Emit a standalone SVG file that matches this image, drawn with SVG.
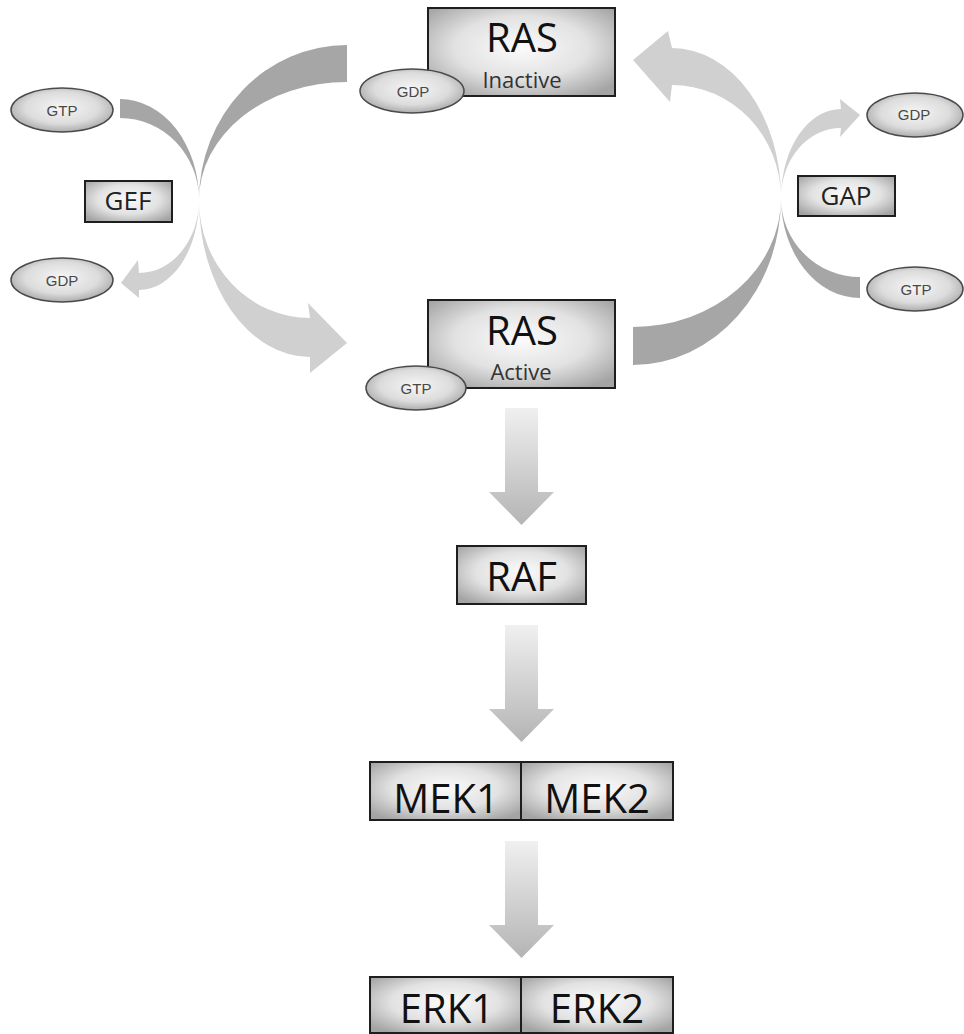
<svg xmlns="http://www.w3.org/2000/svg" width="964" height="1034" viewBox="0 0 964 1034">
<defs>
<radialGradient id="boxGrad" cx="50%" cy="45%" r="65%">
<stop offset="0" stop-color="#fbfbfb"/>
<stop offset="0.55" stop-color="#e2e2e2"/>
<stop offset="1" stop-color="#a4a4a4"/>
</radialGradient>
<radialGradient id="ellGrad" cx="50%" cy="45%" r="60%">
<stop offset="0" stop-color="#f6f6f6"/>
<stop offset="0.6" stop-color="#dcdcdc"/>
<stop offset="1" stop-color="#a0a0a0"/>
</radialGradient>
<linearGradient id="downGrad" x1="0" y1="0" x2="0" y2="1">
<stop offset="0" stop-color="#f0f0f0"/>
<stop offset="1" stop-color="#b4b4b4"/>
</linearGradient>
<path id="downArrow" d="M-16.5,0 H16.5 V84 H32.5 L0,117 L-32.5,84 H-16.5 Z"/>
</defs>
<style>
.box{fill:url(#boxGrad);stroke:#1e1e1e;stroke-width:2}
.ell{fill:url(#ellGrad);stroke:#4a4a4a;stroke-width:1.5}
.big{font-family:"Open Sans","DejaVu Sans",sans-serif;font-size:40px;fill:#111;text-anchor:middle}
.mid{font-family:"Open Sans","DejaVu Sans",sans-serif;font-size:26px;fill:#222;text-anchor:middle}
.sub{font-family:"Open Sans","DejaVu Sans",sans-serif;font-size:22px;fill:#333;text-anchor:middle}
.sm{font-family:"Liberation Sans",Arial,sans-serif;font-size:15px;fill:#484848;text-anchor:middle}
.dark{fill:#a6a6a6}
.light{fill:#d0d0d0}
.down{fill:url(#downGrad)}
</style>
<rect width="964" height="1034" fill="#ffffff"/>
<g id="connectors">
<path class="dark" d="M347,45 A148,155 0 0 0 199,200 A148,118 0 0 1 347,82 Z"/>
<path class="dark" d="M120,99 A79,101 0 0 1 199,200 A79,82 0 0 0 120,118 Z"/>
<path class="light" d="M199,200 A111,118 0 0 0 310,318 L308,303 L347,343 L310,373 L310,357 A111,157 0 0 1 199,200 Z"/>
<path class="light" d="M199,200 A60,73 0 0 1 139,273 L138,260 L121,283 L139,298 L139,290 A60,90 0 0 0 199,200 Z"/>
<path class="dark" d="M633,365 A148,167 0 0 0 781,198 A148,129 0 0 1 633,327 Z"/>
<path class="dark" d="M860,298 A79,100 0 0 1 781,198 A79,79 0 0 0 860,277 Z"/>
<path class="light" d="M781,198 A109,113 0 0 0 672,85 L670,102 L633,60 L668,31 L672,48 A109,150 0 0 1 781,198 Z"/>
<path class="light" d="M781,198 A60,89 0 0 1 841,109 L840,99 L860,115 L840,137 L841,128 A60,70 0 0 0 781,198 Z"/>
<use href="#downArrow" class="down" x="521.5" y="408"/>
<use href="#downArrow" class="down" x="521.5" y="625"/>
<use href="#downArrow" class="down" x="521.5" y="841"/>
</g>
<g id="ras-inactive">
<rect class="box" x="428" y="8" width="187" height="88"/>
<text class="big" x="522" y="52">RAS</text>
<text class="sub" x="522" y="88">Inactive</text>
<ellipse class="ell" cx="412" cy="91" rx="52" ry="22"/>
<text class="sm" x="413" y="97">GDP</text>
</g>
<g id="ras-active">
<rect class="box" x="428" y="300" width="187" height="88"/>
<text class="big" x="522" y="345">RAS</text>
<text class="sub" x="521" y="380">Active</text>
<ellipse class="ell" cx="416" cy="388" rx="50" ry="22"/>
<text class="sm" x="416" y="394">GTP</text>
</g>
<g id="gtp-left">
<ellipse class="ell" cx="62" cy="110" rx="51" ry="22"/>
<text class="sm" x="62" y="116">GTP</text>
</g>
<g id="gdp-left">
<ellipse class="ell" cx="62" cy="280" rx="51" ry="22"/>
<text class="sm" x="62" y="286">GDP</text>
</g>
<g id="gef">
<rect class="box" x="85" y="181" width="87" height="41"/>
<text class="mid" x="128" y="210">GEF</text>
</g>
<g id="gdp-right">
<ellipse class="ell" cx="915" cy="115" rx="48" ry="22"/>
<text class="sm" x="914" y="120">GDP</text>
</g>
<g id="gtp-right">
<ellipse class="ell" cx="915" cy="289" rx="48" ry="22"/>
<text class="sm" x="916" y="295">GTP</text>
</g>
<g id="gap">
<rect class="box" x="798" y="176" width="97" height="40"/>
<text class="mid" x="846" y="205">GAP</text>
</g>
<g id="raf">
<rect class="box" x="457" y="546" width="129" height="58"/>
<text class="big" x="521.5" y="591">RAF</text>
</g>
<g id="mek">
<rect class="box" x="370" y="762" width="151" height="58"/>
<rect class="box" x="521" y="762" width="152" height="58"/>
<text class="big" x="446" y="813">MEK1</text>
<text class="big" x="597" y="813">MEK2</text>
</g>
<g id="erk">
<rect class="box" x="370" y="977" width="151" height="56"/>
<rect class="box" x="521" y="977" width="152" height="56"/>
<text class="big" x="447" y="1023">ERK1</text>
<text class="big" x="597" y="1023">ERK2</text>
</g>
</svg>
